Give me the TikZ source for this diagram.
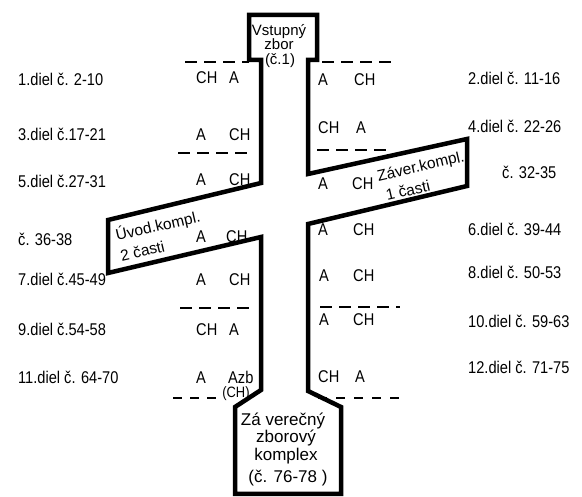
\documentclass[tikz,border=0pt]{standalone}
\usepackage{fontspec}
\setmainfont{Liberation Sans}
\newfontfamily\condfont[FakeStretch=0.86]{Liberation Sans}
\begin{document}
\begin{tikzpicture}[x=1pt,y=-1pt,
  outline/.style={line width=4.5pt, line join=miter, miter limit=10},
  sepline/.style={line width=1.3pt, dash pattern=on 12pt off 7pt},
  lbl/.style={font=\condfont\fontsize{17}{17}\selectfont, inner sep=0pt, anchor=base west},
  ctr/.style={font=\fontsize{15}{15}\selectfont, inner sep=0pt, anchor=base},
  bigctr/.style={font=\fontsize{17}{17}\selectfont, inner sep=0pt, anchor=base},
  rot/.style={font=\fontsize{15.5}{21}\selectfont, inner sep=0pt, rotate=13, align=left},
  small/.style={font=\condfont\fontsize{15}{15}\selectfont, inner sep=0pt, anchor=base}]
\useasboundingbox (0,0) rectangle (582,497);

% outline of the cross-shaped plan
\draw[outline] (249,15) -- (317,15) -- (317,60) -- (308,60) -- (308,174)
  -- (467,139) -- (467,186) -- (308,224) -- (308,391) -- (341,407)
  -- (341,494) -- (235,494) -- (235,407) -- (261,390) -- (261,237)
  -- (108,273) -- (108,220) -- (261,183) -- (261,60) -- (249,60) -- cycle;

% dashed separators
\draw[sepline] (185,62) -- (249,62);
\draw[sepline] (322,62) -- (395,62);
\draw[sepline] (178,153) -- (253,153);
\draw[sepline] (317,150) -- (393,150);
\draw[sepline] (180,308) -- (250,308);
\draw[sepline] (320,307) -- (400,307);
\draw[sepline, dash pattern=on 9pt off 8pt] (173,398) -- (222,398);
\draw[sepline, dash pattern=on 9pt off 9pt] (318,398) -- (402,398);

% top box
\node[ctr] (t1) at (279,36) {Vstupný};
\node[ctr] (t2) at (279,50) {zbor};
\node[ctr] (t3) at (280,65) {(č.1)};

% bottom box
\node[bigctr] (b1) at (283,426) {Zá verečný};
\node[bigctr] (b2) at (286,443) {zborový};
\node[bigctr] (b3) at (286,461) {komplex};
\node[bigctr] (b4) at (288,483) {(č. 76-78 )};

% rotated texts
\node[rot] (z) at (423,176) {Záver.kompl.\\\hspace*{4pt}1 časti};
\node[rot] (u) at (160,235) {Úvod.kompl.\\2 časti};

% left outer labels
\node[lbl] (l1) at (18,86) {1.diel č. 2-10};
\node[lbl] (l3) at (18,141) {3.diel č.17-21};
\node[lbl] (l5) at (18,188) {5.diel č.27-31};
\node[lbl] (lu) at (18,246) {č. 36-38};
\node[lbl] (l7) at (18,286) {7.diel č.45-49};
\node[lbl] (l9) at (18,336) {9.diel č.54-58};
\node[lbl] (l11) at (18,384) {11.diel č. 64-70};

% right outer labels
\node[lbl] (r2) at (468,85) {2.diel č. 11-16};
\node[lbl] (r4) at (468,133) {4.diel č. 22-26};
\node[lbl] (rz) at (502,179) {č. 32-35};
\node[lbl] (r6) at (468,236) {6.diel č. 39-44};
\node[lbl] (r8) at (468,279) {8.diel č. 50-53};
\node[lbl] (r10) at (468,328) {10.diel č. 59-63};
\node[lbl] (r12) at (468,374) {12.diel č. 71-75};

% inner left
\node[lbl] (a1) at (196,84) {CH};  \node[lbl] (b1x) at (229,84) {A};
\node[lbl] (a3) at (196,141) {A};  \node[lbl] (b3x) at (229,141) {CH};
\node[lbl] (a5) at (196,186) {A};  \node[lbl] (b5x) at (229,186) {CH};
\node[lbl] (au) at (196,243) {A};  \node[lbl] (bu) at (226,243) {CH};
\node[lbl] (a7) at (196,286) {A};  \node[lbl] (b7x) at (229,286) {CH};
\node[lbl] (a9) at (196,336) {CH}; \node[lbl] (b9x) at (229,336) {A};
\node[lbl] (a11) at (196,384) {A}; \node[lbl] (b11x) at (228,384) {Azb};
\node[small] (c11) at (236,398) {(CH)};

% inner right
\node[lbl] (c2) at (318,86) {A};   \node[lbl] (d2) at (354,86) {CH};
\node[lbl] (c4) at (318,134) {CH}; \node[lbl] (d4) at (356,134) {A};
\node[lbl] (cz) at (318,190) {A};  \node[lbl] (dz) at (352,190) {CH};
\node[lbl] (c6) at (318,236) {A};  \node[lbl] (d6) at (353,236) {CH};
\node[lbl] (c8) at (319,282) {A};  \node[lbl] (d8) at (353,282) {CH};
\node[lbl] (c10) at (319,326) {A}; \node[lbl] (d10) at (353,326) {CH};
\node[lbl] (c12) at (318,383) {CH}; \node[lbl] (d12) at (355,383) {A};
\end{tikzpicture}
\end{document}
